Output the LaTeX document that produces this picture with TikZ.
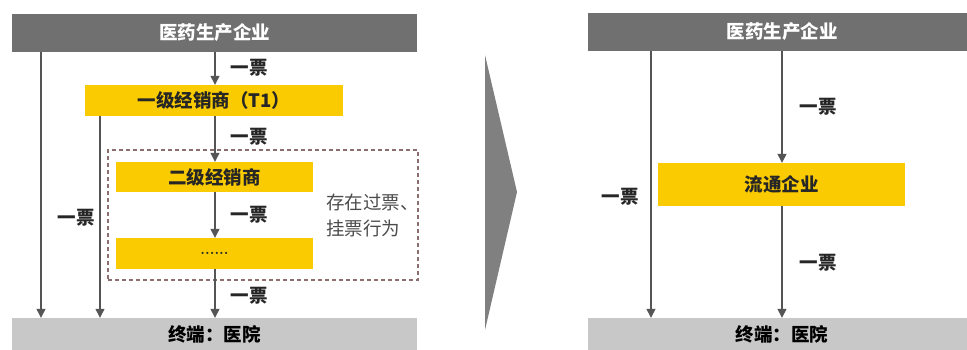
\documentclass[tikz,border=0pt]{standalone}
\usepackage{fontspec}
\newfontfamily\cjk{Noto Sans CJK SC}
\usetikzlibrary{arrows.meta}
\definecolor{darkbar}{HTML}{707070}
\definecolor{lightbar}{HTML}{C8C8C8}
\definecolor{ylw}{HTML}{FACB00}
\definecolor{arrowc}{HTML}{555555}
\definecolor{dashc}{HTML}{8C6E6E}
\definecolor{chevc}{HTML}{808080}
\tikzset{
  x=1pt, y=-1pt,
  txt/.style={font=\cjk\bfseries\fontsize{18.5}{22}\selectfont},
  topbar/.style={txt, fill=darkbar, text=white, inner sep=0pt, minimum height=38pt},
  botbar/.style={txt, fill=lightbar, text=black, inner sep=0pt, minimum height=32pt},
  ybox/.style={txt, fill=ylw, text=black!85, inner sep=0pt},
  arr/.style={draw=arrowc, line width=1.3pt, -{Triangle[width=9pt,length=9pt]}},
  lbl/.style={txt, text=black!85, inner sep=0pt},
  grpbox/.style={draw=dashc, line width=1.1pt, dash pattern=on 4pt off 3pt, inner sep=0pt},
  note/.style={font=\cjk\fontsize{18.5}{26}\selectfont, text=black!70, align=left, inner sep=0pt},
}
\begin{document}
\begin{tikzpicture}
\useasboundingbox[fill=white] (0,0) rectangle (967,349);
% ---------- left panel ----------
\node[grpbox, minimum width=310pt, minimum height=130pt] (grp) at (263,215) {};
\node[topbar, minimum width=405pt] (topL) at (214.5,33) {医药生产企业};
\node[botbar, minimum width=405pt] (botL) at (214.5,334) {终端：医院};
\node[ybox, minimum width=258pt, minimum height=31pt] (t1) at (214,100.5) {一级经销商（T1）};
\node[ybox, minimum width=197pt, minimum height=30pt] (d2) at (214.5,177) {二级经销商};
\node[ybox, minimum width=197pt, minimum height=31pt, font=\bfseries\fontsize{15}{16}\selectfont] (d3) at (214.5,253.5) {......};
\node[note, anchor=west] (nt) at (326,215) {存在过票、\\挂票行为};

\coordinate (xa) at (41,0);
\coordinate (xb) at (100,0);
\coordinate (xc) at (215,0);
\draw[arr] (topL.south -| xa) -- (botL.north -| xa);
\draw[arr] (t1.south -| xb) -- (botL.north -| xb);
\draw[arr] (topL.south -| xc) -- (t1.north -| xc);
\draw[arr] (t1.south -| xc) -- (d2.north -| xc);
\draw[arr] (d2.south -| xc) -- (d3.north -| xc);
\draw[arr] (d3.south -| xc) -- (botL.north -| xc);

\node[lbl] (l1) at (249,68) {一票};
\node[lbl] (l2) at (249,137) {一票};
\node[lbl] (l3) at (249,215) {一票};
\node[lbl] (l4) at (249,296) {一票};
\node[lbl] (l5) at (76,218) {一票};

% ---------- chevron ----------
\fill[chevc] (485,55) -- (517,192) -- (485,330) -- cycle;

% ---------- right panel ----------
\node[topbar, minimum width=388pt] (topR) at (782,32) {医药生产企业};
\node[botbar, minimum width=388pt] (botR) at (782,334) {终端：医院};
\node[ybox, minimum width=247pt, minimum height=43pt] (flow) at (781.5,184.5) {流通企业};

\coordinate (xd) at (651,0);
\coordinate (xe) at (782,0);
\draw[arr] (topR.south -| xd) -- (botR.north -| xd);
\draw[arr] (topR.south -| xe) -- (flow.north -| xe);
\draw[arr] (flow.south -| xe) -- (botR.north -| xe);

\node[lbl] (r1) at (818,107) {一票};
\node[lbl] (r2) at (818,263) {一票};
\node[lbl] (r3) at (620,197) {一票};
\end{tikzpicture}
\end{document}
